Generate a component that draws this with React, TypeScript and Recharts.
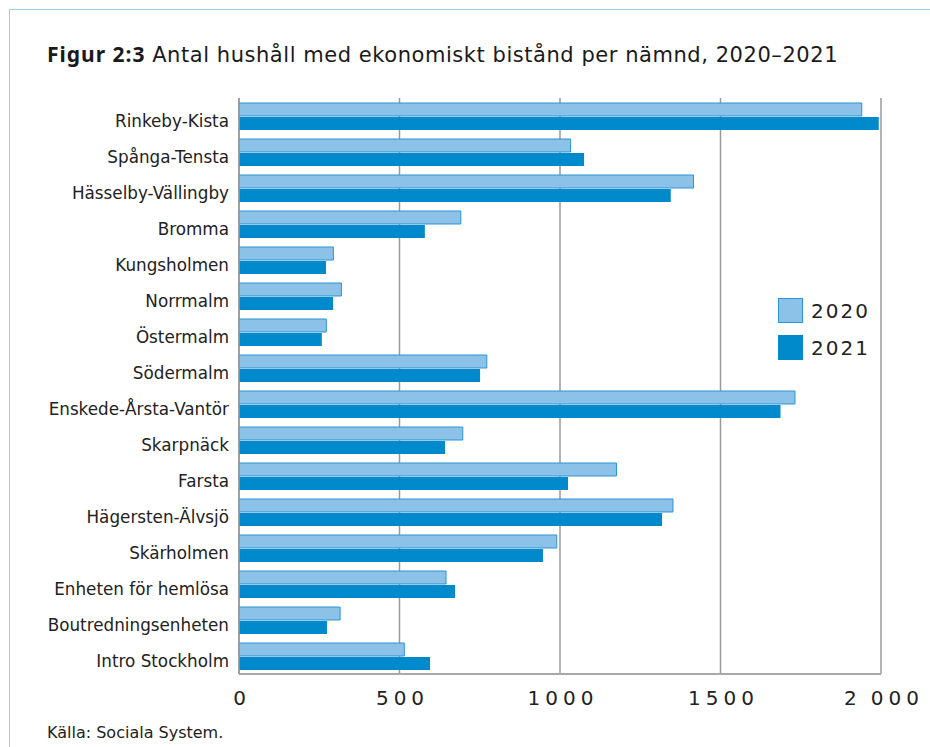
import React from "react";
import { BarChart, Bar, XAxis, YAxis, CartesianGrid } from "recharts";

const categories = [
  "Rinkeby-Kista",
  "Spånga-Tensta",
  "Hässelby-Vällingby",
  "Bromma",
  "Kungsholmen",
  "Norrmalm",
  "Östermalm",
  "Södermalm",
  "Enskede-Årsta-Vantör",
  "Skarpnäck",
  "Farsta",
  "Hägersten-Älvsjö",
  "Skärholmen",
  "Enheten för hemlösa",
  "Boutredningsenheten",
  "Intro Stockholm",
];
const values2020 = [1940, 1033, 1416, 691, 294, 319, 272, 772, 1732, 697, 1176, 1352, 990, 645, 315, 515];
const values2021 = [1993, 1075, 1345, 579, 271, 293, 258, 751, 1687, 642, 1025, 1318, 947, 673, 274, 595];
const xTicks = [0, 500, 1000, 1500, 2000];
const xTickLabels = ["0", "500", "1000", "1500", "2\u2009000"];
const seriesNames = ["2020", "2021"];

const data = categories.map((name, i) => ({ name, v2020: values2020[i], v2021: values2021[i] }));

const FONT = "'DejaVu Sans', sans-serif";
const NOTO = "'Noto Sans', sans-serif";
const C2020 = "#8CC1E8";
const C2020S = "#2B95D6";
const C2021 = "#0089CB";

const YTick = (props: any) => {
  const { x, y, payload } = props;
  return (
    <text x={x - 2} y={y + 5} dy="0.35em" textAnchor="end" fontFamily={FONT} fontSize={16.8} fill="#222">
      {payload.value}
    </text>
  );
};

const XTick = (props: any) => {
  const { x, y, payload } = props;
  const idx = xTicks.indexOf(payload.value);
  return (
    <text
      x={x + 3}
      y={y + 16}
      dy="0.35em"
      textAnchor="middle"
      fontFamily={FONT}
      fontSize={20}
      letterSpacing={5}
      fill="#222"
    >
      {idx >= 0 ? xTickLabels[idx] : payload.value}
    </text>
  );
};

export default function App() {
  const legendItems = [
    { label: seriesNames[0], fill: C2020, stroke: C2020S },
    { label: seriesNames[1], fill: C2021, stroke: C2021 },
  ];
  return (
    <div style={{ position: "relative", width: 930, height: 747, background: "#fff", overflow: "hidden" }}>
      <style>{"html,body{margin:0;padding:0;overflow:hidden;}"}</style>
      <div
        style={{
          position: "absolute",
          left: 9,
          top: 9,
          width: 940,
          height: 760,
          borderTop: "1.5px solid #9DCFEC",
          borderLeft: "1.5px solid #9DCFEC",
          boxSizing: "border-box",
        }}
      />
      <div
        style={{
          position: "absolute",
          left: 47,
          top: 40,
          fontFamily: FONT,
          fontSize: 21,
          color: "#1a1a1a",
          whiteSpace: "nowrap",
        }}
      >
        <span style={{ fontFamily: NOTO, fontWeight: 700, letterSpacing: 1 }}>Figur 2:3</span>{" "}
        <span style={{ letterSpacing: 0.55 }}>Antal hushåll med ekonomiskt bistånd per nämnd, 2020–2021</span>
      </div>
      <div style={{ position: "absolute", left: 0, top: 0 }}>
        <BarChart
          width={930}
          height={747}
          data={data}
          layout="vertical"
          margin={{ top: 98, right: 49, left: 0, bottom: 33 }}
          barSize={13}
          barGap={1}
        >
          <CartesianGrid horizontal={false} vertical={true} stroke="#9a9a9a" strokeWidth={1.5} />
          <XAxis
            type="number"
            domain={[0, 2000]}
            ticks={xTicks}
            tick={<XTick />}
            tickLine={false}
            axisLine={{ stroke: "#a8a8a8", strokeWidth: 2 }}
            height={40}
            interval={0}
          />
          <YAxis
            type="category"
            dataKey="name"
            width={239}
            tick={<YTick />}
            tickLine={false}
            axisLine={{ stroke: "#9a9a9a", strokeWidth: 1.5 }}
            interval={0}
          />
          <Bar dataKey="v2020" name={seriesNames[0]} fill={C2020} stroke={C2020S} strokeWidth={1} isAnimationActive={false} />
          <Bar dataKey="v2021" name={seriesNames[1]} fill={C2021} isAnimationActive={false} />
        </BarChart>
      </div>
      <div style={{ position: "absolute", left: 778, top: 298 }}>
        {legendItems.map((it) => (
          <div key={it.label} style={{ display: "flex", alignItems: "center", height: 25, marginBottom: 12 }}>
            <div style={{ width: 23, height: 23, background: it.fill, border: `1px solid ${it.stroke}` }} />
            <span style={{ marginLeft: 8, fontFamily: FONT, fontSize: 20, letterSpacing: 2, color: "#222" }}>{it.label}</span>
          </div>
        ))}
      </div>
      <div style={{ position: "absolute", left: 47, top: 723, fontFamily: FONT, fontSize: 16, color: "#222" }}>
        Källa: Sociala System.
      </div>
    </div>
  );
}
